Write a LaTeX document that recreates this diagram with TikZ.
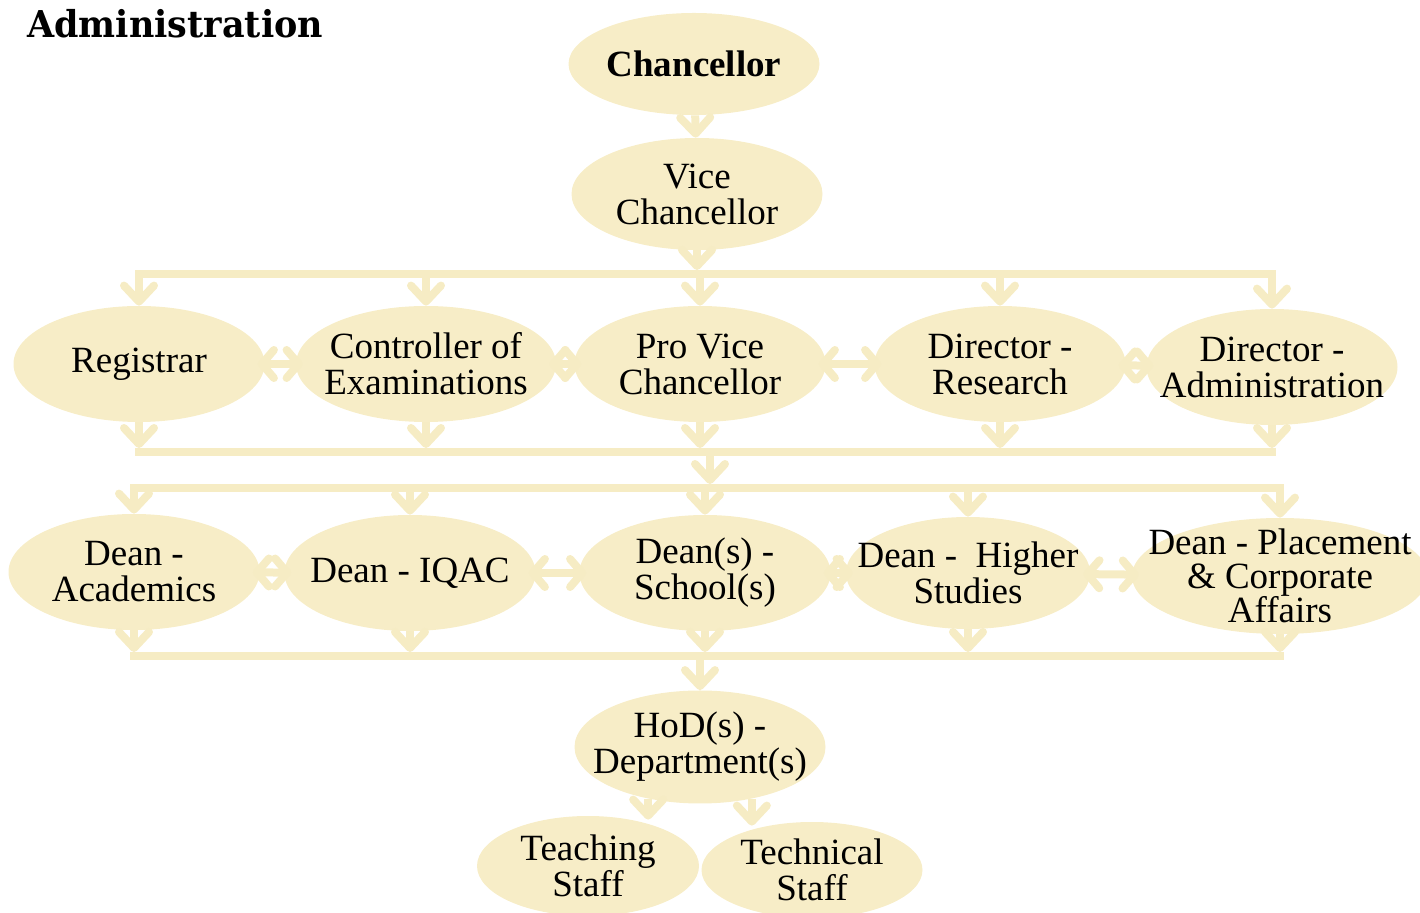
\documentclass[tikz,border=0pt]{standalone}
\usepackage{fontspec}
\setmainfont{Liberation Serif}
\newfontfamily\titlefont{DejaVu Serif}
\usepackage{xcolor}
\usepackage{tikz}
\usetikzlibrary{arrows.meta}
\usetikzlibrary{shapes.geometric}
\usetikzlibrary{positioning}
\usetikzlibrary{calc}
\definecolor{boxfill}{RGB}{247,237,199}
\definecolor{linkcol}{RGB}{246,236,196}
\tikzset{
  post/.style={ellipse, fill=boxfill, inner xsep=-30pt, inner ysep=-10pt, align=center,
    minimum width=125.5pt, minimum height=58pt, font=\fontsize{18.5}{18}\selectfont},
  link/.style={draw=linkcol, line width=4pt, -{Straight Barb[length=8pt,width=15pt,round]}},
  both/.style={draw=linkcol, line width=4pt, shorten <=-3.5pt, shorten >=-3.5pt,
    {Straight Barb[length=6pt,width=14pt,round]}-{Straight Barb[length=6pt,width=14pt,round]}},
  bus/.style={draw=linkcol, line width=4pt, line cap=rect}
}

\begin{document}
\begin{tikzpicture}[x=0.5pt,y=-0.5pt]
  \useasboundingbox (0,0) rectangle (1420,913);
  \node[anchor=base west, inner sep=0pt, font=\titlefont\bfseries\fontsize{18.5}{20}\selectfont] (title) at (27,38) {\scalebox{0.945}[1]{Administration}};

  % top of the tree
  \node[post, minimum height=51pt, font=\bfseries\fontsize{18.5}{17.5}\selectfont] (chan) at (694,64) {Chancellor};
  \node[post, minimum height=56pt] (vc) at (697,194) {Vice\\Chancellor};

  % first row
  \node[post] (reg) at (139,364) {Registrar};
  \node[post, minimum width=130pt] (coe) at (426,364) {Controller of\\Examinations};
  \node[post] (pvc) at (700,364) {Pro Vice\\Chancellor};
  \node[post] (dre) at (1000,364) {Director -\\Research};
  \node[post] (dad) at (1272,367) {Director -\\Administration};

  % second row
  \node[post] (dac) at (134,572) {Dean -\\Academics};
  \node[post] (diq) at (410,573) {Dean - IQAC};
  \node[post] (dsc) at (705,573) {Dean(s) -\\School(s)};
  \node[post, minimum width=122pt, minimum height=56pt] (dhs) at (968,573) {Dean -~ Higher\\Studies};
  \node[post, minimum width=148pt, font=\fontsize{18.5}{17}\selectfont] (dpl) at (1280,576) {Dean - Placement\\\& Corporate\\Affairs};

  % bottom
  \node[post, minimum height=56.5pt] (hod) at (700,747) {HoD(s) -\\Department(s)};
  \node[post, minimum width=111pt, minimum height=50pt] (tea) at (588,866) {Teaching\\Staff};
  \node[post, minimum width=110.5pt, minimum height=48pt] (tec) at (812,870) {Technical\\Staff};

  % buses
  \coordinate (busA) at (705,274);
  \coordinate (busB) at (710,452);
  \coordinate (busC) at (710,488);
  \coordinate (busD) at (710,656);

  \draw[link] (chan) -- (vc);
  \draw[link, shorten >=2pt] (vc) -- (vc |- busA);
  \draw[bus] (reg |- busA) -- (dad |- busA);
  \foreach \n in {reg,coe,pvc,dre,dad}
    \draw[link] (\n |- busA) -- (\n);
  \draw[both] (reg) -- (coe);
  \draw[both] (coe) -- (pvc);
  \draw[both] (pvc) -- (dre);
  \draw[both] (dre) -- (dad);
  \foreach \n in {reg,coe,pvc,dre,dad}
    \draw[link, shorten >=2pt] (\n) -- (\n |- busB);
  \draw[bus] (reg |- busB) -- (dad |- busB);
  \draw[link, shorten <=2pt, shorten >=2pt] (busB) -- (busC);

  \draw[bus] (dac |- busC) -- (dpl |- busC);
  \foreach \n in {dac,diq,dsc,dhs,dpl}
    \draw[link] (\n |- busC) -- (\n);
  \draw[both] (dac) -- (diq);
  \draw[both] (diq) -- (dsc);
  \draw[both] (dsc) -- (dhs);
  \draw[both] (dhs) -- (dpl);
  \foreach \n in {dac,diq,dsc,dhs,dpl}
    \draw[link, shorten >=2pt] (\n) -- (\n |- busD);
  \draw[bus] (dac |- busD) -- (dpl |- busD);
  \draw[link] (hod |- busD) -- (hod);

  \draw[link, shorten >=-2pt] (hod.225) -- (hod.225 |- tea.north);
  \draw[link, shorten >=-2pt] (hod.-45) -- (hod.-45 |- tec.north);
\end{tikzpicture}
\end{document}
